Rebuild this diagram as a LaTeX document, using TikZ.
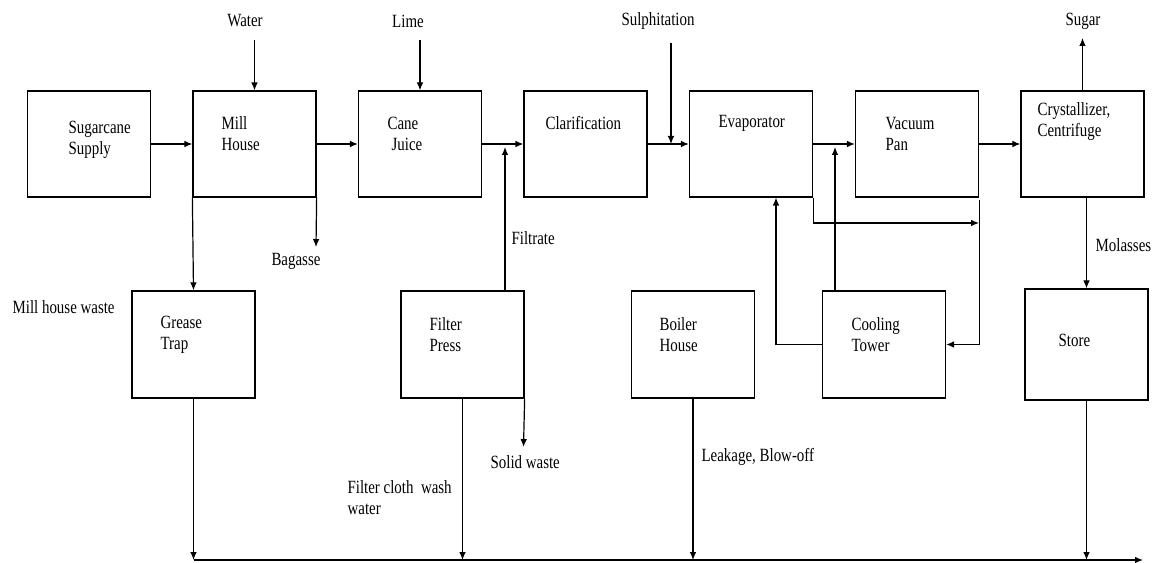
\documentclass[tikz,border=0pt]{standalone}
\usepackage{fontspec}
\setmainfont{Liberation Serif}[FakeStretch=0.8]
\usetikzlibrary{arrows.meta,calc}

\begin{document}
\begin{tikzpicture}[x=0.75pt,y=-0.75pt,line width=0.9pt,
  >={Latex[length=6pt,width=5pt]},
  every node/.append style={font=\fontsize{14}{15.75}\selectfont}]
  \tikzstyle{box} = [draw,rectangle,minimum width=92.3pt,minimum height=79.5pt,inner sep=0pt]
  \tikzstyle{word} = [align=left,inner sep=0pt,anchor=west]
  \useasboundingbox (0,0) rectangle (1153,563);
  % process units, top row
  \node (supply) [box] at (89,144) {};
  \node (mill) [box] at (254.5,144) {};
  \node (juice) [box] at (420,144) {};
  \node (clar) [box] at (585.5,144) {};
  \node (evap) [box] at (751,144) {};
  \node (vac) [box] at (917,144) {};
  \node (cryst) [box] at (1082.5,144) {};
  % bottom row
  \node (grease) [box,minimum height=80.3pt] at (193.5,344.5) {};
  \node (press) [box,minimum height=80.3pt] at (462.5,344.5) {};
  \node (boiler) [box,minimum height=80.3pt] at (693,344.5) {};
  \node (cool) [box,minimum height=80.3pt] at (884,344.5) {};
  \node (store) [box,minimum height=83.3pt] at (1086.5,344.5) {};
  % box texts
  \node (supplyT) [word] at (68,139.5) {Sugarcane\\Supply};
  \node (millT) [word] at (221,133.5) {Mill\\House};
  \node (juiceT) [word] at (387,133.5) {Cane\\\hspace{3pt}Juice};
  \node (clarT) [word] at (545,123) {Clarification};
  \node (evapT) [word] at (718,123) {Evaporator};
  \node (vacT) [word] at (885,133.5) {Vacuum\\Pan};
  \node (crystT) [word] at (1037,122) {Crystallizer,\\Centrifuge};
  \node (greaseT) [word] at (160,335) {Grease\\Trap};
  \node (pressT) [word] at (429,335) {Filter\\Press};
  \node (boilerT) [word] at (659,335) {Boiler\\House};
  \node (coolT) [word] at (851,335) {Cooling\\Tower};
  \node (storeT) [word] at (1058,340) {Store};
  % stream labels
  \node (water) at (245,21) {Water};
  \node (lime) at (408,21) {Lime};
  \node (sulph) at (658,21) {Sulphitation};
  \node (sugar) at (1083,21) {Sugar};
  \node (bagasse) at (296,261) {Bagasse};
  \node (filtrate) [word] at (511,238) {Filtrate};
  \node (molasses) [word] at (1095,245) {Molasses};
  \node (millwaste) [word] at (12,307) {Mill house waste};
  \node (wash) [word] at (347,497.5) {Filter cloth\ \ wash\\water};
  \node (solid) [word] at (490,462) {Solid waste};
  \node (leak) [word] at (701,457) {Leakage, Blow-off};
  % free ends
  \coordinate (waterin) at (254.5,40);
  \coordinate (limein) at (420,40);
  \coordinate (sulphin) at (671,43);
  \coordinate (sugarout) at (1082.5,38);
  \coordinate (bagout) at (316,247);
  \coordinate (filtin) at (505,147);
  \coordinate (coolL) at (776,344.5);
  \coordinate (coolU) at (835,147);
  \coordinate (loopR) at (979,223);
  \coordinate (solidout) at (523.5,447);
  \coordinate (busL) at (193.5,560);
  \coordinate (busR) at (1143,560);
  % main line
  \draw[->] (supply) -- (mill);
  \draw[->] (mill) -- (juice);
  \draw[->] (juice) -- (clar);
  \draw[->] (clar) -- (evap);
  \draw[->] (evap) -- (vac);
  \draw[->] (vac) -- (cryst);
  % inputs and outputs
  \draw[->] (waterin) -- (mill);
  \draw[->] (limein) -- (juice);
  \draw[->] (sulphin) -- (sulphin |- evap.west);
  \draw[->] (cryst) -- (sugarout);
  \draw[->] (mill.south east) -- (bagout);
  \draw[->] (mill.south west) -- (grease.north);
  \draw[->] (filtin |- press.north) -- (filtin);
  \draw[->] (store |- cryst.south) -- (store);
  % cooling water loop
  \draw[->] (cool.west) -- (coolL) -- (coolL |- evap.south);
  \draw[->] (coolU |- cool.north) -- (coolU);
  \draw[->] (evap.south east) |- (loopR);
  \draw[->] ([yshift=-2pt]vac.south east) |- (cool.east);
  % effluent
  \draw[->] (busL) -- (busR);
  \draw[->] (grease) -- (busL);
  \draw[->] (press) -- (press |- busL);
  \draw[->] (press.south east) -- (solidout);
  \draw[->] (boiler) -- (boiler |- busL);
  \draw[->] (store) -- (store |- busL);
\end{tikzpicture}
\end{document}
